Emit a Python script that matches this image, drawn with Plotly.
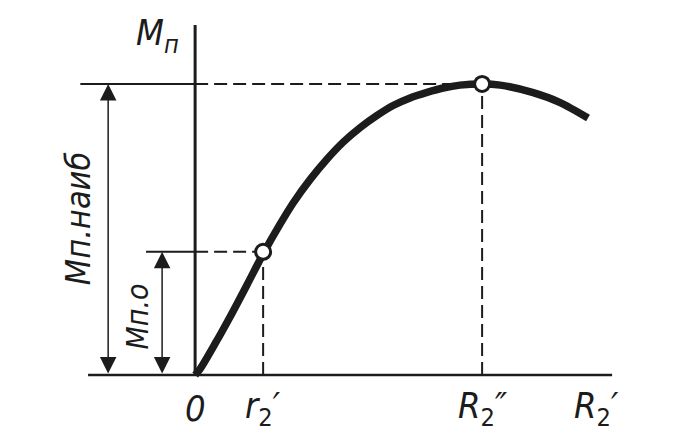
import plotly.graph_objects as go

# ---- data (normalised units: x in R2'' units, y in M_max units) ----
curve_x = [0.0, 0.017, 0.070, 0.122, 0.181, 0.237, 0.296, 0.341, 0.401, 0.460, 0.516,
           0.575, 0.634, 0.690, 0.749, 0.808, 0.864, 0.923, 1.0, 1.063, 1.178, 1.272, 1.369]
curve_y = [0.0, 0.020, 0.108, 0.200, 0.310, 0.416, 0.518, 0.590, 0.672, 0.742, 0.800,
           0.850, 0.892, 0.926, 0.952, 0.971, 0.986, 0.996, 1.0, 0.996, 0.970, 0.936, 0.883]
point_x = [0.237, 1.0]          # r2', R2''
point_y = [0.423, 1.0]          # M_п.о, M_п.наиб
tick_x = [0.0, 0.237, 1.0, 1.40]
tick_labels = ["<i>0</i>", "<i>r</i><sub>2</sub><i>′</i>", "<i>R</i><sub>2</sub><i>″</i>", "<i>R</i><sub>2</sub><i>′</i>"]

r2, R2pp = point_x
Mp0, Mmax = point_y

INK = "#1c1c1c"
FONT = "Liberation Sans Narrow, DejaVu Sans Condensed, Liberation Sans, sans-serif"

fig = go.Figure()
fig.add_trace(go.Scatter(x=curve_x, y=curve_y, mode="lines",
                         line=dict(color=INK, width=7.5, shape="spline", smoothing=0.8),
                         hoverinfo="skip", showlegend=False))
fig.add_trace(go.Scatter(x=point_x, y=point_y, mode="markers",
                         marker=dict(size=15, color="white", line=dict(color=INK, width=3)),
                         hoverinfo="skip", showlegend=False))

shapes = []
def line(x0, y0, x1, y1, w=2, dash="solid"):
    shapes.append(dict(type="line", xref="x", yref="y", x0=x0, y0=y0, x1=x1, y1=y1,
                       line=dict(color=INK, width=w, dash=dash), layer="below"))

# axes
line(0, 0, 0, 1.203, w=3)
line(-0.373, 0, 1.453, 0, w=2.5)
# top level line
line(-0.40, Mmax, 0, Mmax, w=2)
line(0, Mmax, R2pp, Mmax, w=2, dash="13px,6px")
# M_p.o level line
line(-0.171, Mp0, 0, Mp0, w=2)
line(0, Mp0, r2, Mp0, w=2, dash="13px,6px")
# vertical projections
line(r2, 0, r2, Mp0, w=2, dash="13px,6px")
line(R2pp, 0, R2pp, Mmax, w=2, dash="13px,6px")

ann = []
# dimension arrows
for xa, top in [(-0.303, Mmax), (-0.115, Mp0)]:
    ann.append(dict(x=xa, y=top, ax=xa, ay=0, xref="x", yref="y", axref="x", ayref="y",
                    showarrow=True, arrowhead=2, arrowsize=2.2, arrowwidth=1.5,
                    arrowside="end+start", arrowcolor=INK, text=""))

def label(x, y, text, size=28, angle=0):
    ann.append(dict(x=x, y=y, xref="x", yref="y", text=text, showarrow=False,
                    textangle=angle, font=dict(family=FONT, size=size, color=INK)))

label(-0.130, 1.165, "<i>M</i><sub><i>п</i></sub>", size=36)
label(-0.410, 0.54, "<i>Mп.наиб</i>", size=34, angle=-90)
label(-0.200, 0.20, "<i>Mп.о</i>", size=30, angle=-90)
for xt, lt in zip(tick_x, tick_labels):
    label(xt, -0.115, lt, size=36)

# figure sized to sit inside the 8px page margin of the browser
fig.update_layout(
    width=675, height=435, autosize=False,
    margin=dict(l=0, r=0, t=0, b=0),
    paper_bgcolor="white", plot_bgcolor="white",
    xaxis=dict(range=[-0.652, 1.700], visible=False, fixedrange=True),
    yaxis=dict(range=[-0.234, 1.261], visible=False, fixedrange=True),
    shapes=shapes, annotations=ann,
)
fig.write_html("out.html")
